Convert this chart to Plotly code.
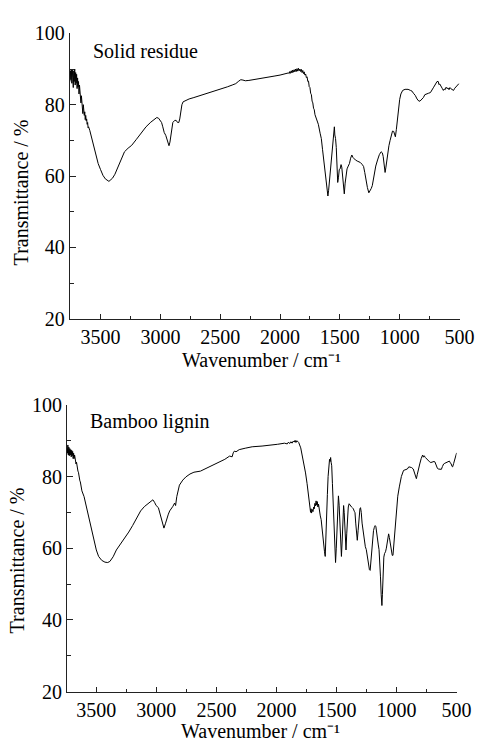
import plotly.graph_objects as go

# ---------------- Data: Solid residue (top) ----------------
wn_solid = [3756, 3752, 3748, 3744, 3740, 3736, 3732, 3728, 3724, 3720, 3716, 3712, 3708, 3704, 3700,
            3696, 3692, 3688, 3684, 3680, 3676, 3672, 3668, 3664, 3660, 3656, 3652, 3648, 3644, 3640,
            3636, 3632, 3628, 3624, 3620, 3616, 3612, 3608, 3604, 3600,
            3590, 3580, 3570, 3560, 3550, 3540, 3520, 3500, 3480, 3460, 3440, 3430, 3420, 3400, 3380,
            3360, 3340, 3320, 3300, 3270, 3240, 3200, 3160, 3120, 3080, 3050, 3030, 3015, 3000, 2990,
            2980, 2968, 2955, 2945, 2935, 2928, 2920, 2912, 2905, 2896, 2880, 2868, 2856, 2846, 2838,
            2830, 2820, 2810, 2790, 2760, 2720, 2690, 2640, 2585, 2530, 2480, 2440, 2400, 2370, 2345,
            2328, 2310, 2290, 2260, 2200, 2150, 2100, 2050, 2000, 1960, 1930,
            1924, 1918, 1912, 1906, 1900, 1894, 1888, 1882, 1876, 1870, 1864, 1858, 1852, 1846, 1840,
            1834, 1828, 1822, 1816, 1810, 1804, 1798, 1792, 1786, 1780, 1774, 1768, 1762, 1756, 1750,
            1744, 1738, 1732, 1726, 1720, 1714, 1708, 1700, 1690, 1680, 1665, 1655, 1645, 1635, 1625,
            1615, 1605, 1600, 1594, 1585, 1578, 1570, 1560, 1552, 1546, 1542, 1536, 1530, 1524, 1518,
            1512, 1505, 1498, 1490, 1484, 1476, 1468, 1463, 1456, 1448, 1440, 1430, 1420, 1410, 1400,
            1390, 1380, 1370, 1355, 1340, 1329, 1315, 1302, 1292, 1283, 1270, 1258, 1248, 1238, 1229,
            1215, 1200, 1185, 1170, 1155, 1145, 1138, 1130, 1122, 1115, 1106, 1100, 1090, 1080, 1070,
            1060, 1050, 1043, 1036, 1028, 1019, 1010, 1000, 990, 975, 955, 930, 910, 897, 885,
            870, 855, 840, 830, 815, 802, 790, 775, 760, 743, 730, 716, 700, 688, 678,
            672, 665, 655, 645, 635, 628, 620, 612, 604, 596, 588, 580, 573, 565, 558,
            550, 540, 530, 520, 510, 505]
t_solid = [86.5, 89.5, 87.0, 90.0, 86.0, 89.8, 87.5, 84.8, 89.5, 86.5, 90.0, 85.5, 89.0, 86.0, 88.5,
           84.5, 87.5, 85.0, 86.5, 83.0, 85.5, 82.5, 84.0, 80.5, 82.5, 79.5, 81.0, 77.5, 80.0, 78.5,
           77.0, 78.0, 75.8, 77.0, 75.5, 76.0, 74.5, 75.0, 73.5, 73.8,
           72.8, 71.5, 70.2, 68.5, 67.3, 66.0, 63.5, 61.8, 60.2, 59.2, 58.6, 58.5, 58.8, 59.4, 60.5,
           62.0, 63.8, 65.5, 66.8, 67.8, 68.6, 70.3, 72.2, 73.8, 75.1, 76.0, 76.4, 76.2, 75.6, 75.0,
           73.8, 72.2, 71.4, 70.5, 69.0, 68.5, 69.5, 71.2, 73.0, 75.0, 75.6, 75.6, 75.0, 75.0, 76.0,
           78.0, 80.0, 80.8, 81.2, 81.6, 82.0, 82.3, 82.9, 83.5, 84.0, 84.6, 85.0, 85.5, 85.9, 86.6,
           87.0, 86.9, 86.7, 86.8, 87.2, 87.5, 87.8, 88.0, 88.3, 88.6, 88.9,
           88.7, 89.3, 88.8, 89.5, 88.9, 89.7, 89.1, 89.8, 89.2, 90.0, 89.3, 90.1, 89.4, 90.2, 89.5,
           90.0, 89.3, 89.9, 89.0, 89.6, 88.7, 89.2, 88.3, 88.6, 87.6, 87.8, 86.5, 86.6, 85.0, 84.8,
           83.2, 82.8, 81.0, 80.5, 79.0, 78.6, 77.2, 76.3, 75.5, 74.5, 72.0, 70.5, 67.5, 64.5, 61.0,
           58.0, 55.0, 54.4, 56.0, 59.5, 62.0, 66.0, 69.0, 71.0, 73.8, 71.5, 70.5, 68.0, 63.0, 58.2,
           59.5, 61.8, 62.0, 63.2, 62.5, 59.0, 56.0, 55.0, 58.0, 61.0, 62.0, 62.8, 63.5, 65.0, 65.9,
           65.2, 64.8, 64.5, 64.2, 64.0, 63.8, 63.3, 62.7, 61.0, 59.1, 56.8, 55.3, 55.8, 56.5, 57.3,
           60.0, 62.8, 64.5, 66.0, 66.8, 66.5, 65.5, 63.0, 61.0, 62.5, 65.0, 66.3, 68.5, 70.0, 71.2,
           72.6, 72.5, 71.8, 71.0, 73.0, 76.3, 79.0, 81.5, 83.0, 84.0, 84.3, 84.3, 84.0, 83.8, 83.2,
           82.6, 81.6, 81.0, 81.0, 81.5, 82.0, 82.8, 83.1, 83.2, 83.4, 84.0, 84.9, 85.8, 86.5, 86.5,
           85.6, 85.8, 85.0, 84.6, 84.0, 84.4, 84.2, 84.9, 84.5, 84.7, 84.2, 84.8, 84.5, 84.3, 84.0,
           84.0, 84.6, 85.0, 85.2, 85.6, 85.9]

# ---------------- Data: Bamboo lignin (bottom) ----------------
wn_lignin = [3745, 3741, 3737, 3733, 3729, 3725, 3721, 3717, 3713, 3709, 3705, 3701, 3697, 3693, 3689,
             3685, 3681, 3677, 3673, 3669, 3665, 3661, 3657, 3653, 3649, 3645, 3641, 3637, 3633, 3629,
             3625, 3620, 3602, 3582, 3562, 3541, 3521, 3500, 3481, 3455, 3428, 3405, 3387, 3360, 3333,
             3300, 3266, 3230, 3198, 3165, 3131, 3100, 3064, 3045, 3029, 3015, 3002, 2983, 2964, 2950,
             2937, 2925, 2915, 2900, 2889, 2875, 2862, 2848, 2840, 2830, 2808, 2780, 2754, 2720, 2687,
             2633, 2566, 2485, 2430, 2390, 2369, 2360, 2350, 2337, 2310, 2260, 2202, 2120, 2041, 1990,
             1933, 1910, 1900, 1890, 1880, 1870, 1860, 1852, 1845, 1838, 1830, 1825, 1815, 1798, 1785,
             1772, 1758, 1745, 1730, 1722, 1716, 1712, 1708, 1702, 1696, 1690, 1685, 1680, 1675, 1670,
             1665, 1660, 1655, 1650, 1645, 1640, 1635, 1628, 1620, 1610, 1600, 1594, 1588, 1582, 1576,
             1570, 1564, 1558, 1553, 1549, 1545, 1540, 1534, 1528, 1522, 1515, 1508, 1502, 1496, 1490,
             1484, 1478, 1472, 1465, 1459, 1453, 1447, 1441, 1436, 1430, 1425, 1421, 1415, 1408, 1402,
             1395, 1385, 1375, 1368, 1360, 1352, 1346, 1340, 1334, 1327, 1320, 1312, 1305, 1300, 1294,
             1287, 1279, 1272, 1266, 1260, 1252, 1245, 1235, 1226, 1220, 1214, 1205, 1198, 1192, 1185,
             1178, 1172, 1166, 1160, 1152, 1146, 1140, 1134, 1128, 1122, 1118, 1112, 1106, 1100, 1092,
             1085, 1078, 1070, 1066, 1060, 1052, 1044, 1036, 1030, 1024, 1016, 1008, 1000, 990, 977,
             960, 942, 925, 910, 898, 888, 875, 861, 850, 842, 835, 828, 818, 807, 795,
             783, 776, 770, 760, 750, 740, 734, 725, 715, 705, 696, 688, 681, 675, 668,
             660, 654, 645, 636, 627, 618, 608, 598, 587, 578, 570, 560, 552, 545, 538,
             533, 525, 515, 507, 500]
t_lignin = [88.0, 86.5, 88.8, 86.0, 88.2, 85.8, 87.8, 86.0, 87.5, 85.5, 87.3, 85.8, 87.0, 85.0, 86.5,
            85.0, 86.0, 84.5, 85.0, 83.5, 84.0, 82.5, 82.8, 81.5, 81.2, 80.0, 80.0, 78.8, 78.5, 77.6,
            77.0, 76.0, 74.4, 71.3, 68.1, 64.9, 61.8, 59.5, 57.7, 56.6, 56.1, 56.0, 56.3, 57.6, 59.5,
            61.0, 62.7, 64.5, 66.3, 68.4, 70.4, 71.6, 72.6, 73.2, 73.5, 72.8, 71.9, 71.3, 69.0, 67.3,
            65.6, 66.8, 68.1, 69.5, 70.4, 71.0, 71.7, 72.6, 71.9, 74.4, 77.6, 79.0, 79.9, 80.7, 81.2,
            81.5, 82.6, 83.9, 84.8, 85.7, 85.5, 86.6, 87.1, 86.9, 87.5, 87.9, 88.3, 88.5, 88.7, 89.0,
            89.3, 89.1, 89.6, 89.2, 89.7, 89.3, 89.9, 89.6, 90.1, 89.5, 90.0, 89.8, 89.5, 88.0, 86.0,
            83.5, 81.0, 78.0, 74.5, 71.5, 70.0, 71.0, 69.8, 70.8, 70.2, 71.5, 71.0, 72.5, 71.8, 73.2,
            72.0, 73.0, 71.5, 72.3, 70.5, 70.8, 69.0, 68.0, 65.0, 62.0, 59.0, 57.7, 62.0, 68.0, 75.0,
            80.0, 84.0, 84.8, 84.2, 85.3, 84.0, 83.0, 78.0, 72.0, 66.0, 60.0, 56.0, 60.0, 66.0, 71.0,
            74.6, 72.0, 66.0, 60.0, 57.7, 62.0, 68.0, 71.9, 70.0, 64.0, 61.0, 59.5, 64.0, 69.0, 71.5,
            72.4, 71.8, 71.5, 71.3, 71.0, 70.3, 69.9, 67.0, 64.0, 62.2, 65.0, 69.0, 71.0, 71.3, 70.0,
            67.0, 64.9, 63.0, 62.8, 60.4, 59.6, 58.0, 55.5, 54.0, 53.8, 56.0, 61.0, 64.0, 64.9, 65.8,
            66.3, 66.0, 64.0, 62.0, 60.9, 59.6, 57.0, 52.0, 47.0, 44.0, 47.0, 53.0, 57.5, 58.5, 59.0,
            60.0, 62.0, 63.5, 64.0, 63.0, 61.0, 59.5, 58.0, 58.0, 60.5, 65.0, 68.5, 71.0, 74.5, 77.1,
            80.0, 81.7, 82.0, 82.1, 82.7, 82.7, 82.5, 82.1, 81.0, 80.0, 79.4, 80.5, 82.5, 83.5, 85.0,
            86.0, 85.4, 85.8, 85.3, 84.9, 84.6, 84.5, 84.1, 83.9, 84.0, 84.2, 84.2, 84.1, 83.5, 82.8,
            82.3, 82.1, 82.0, 82.0, 82.0, 82.8, 83.5, 83.7, 83.9, 84.0, 84.3, 84.3, 83.8, 83.5, 82.8,
            82.7, 83.6, 84.8, 85.8, 86.6]

x_ticks = [3500, 3000, 2500, 2000, 1500, 1000, 500]
y_ticks = [20, 40, 60, 80, 100]
panel_labels = ["Solid residue", "Bamboo lignin"]
x_title = "Wavenumber / cm⁻¹"
y_title = "Transmittance / %"

W, H = 491, 753
FONT = "Liberation Serif, Times New Roman, serif"
FS = 20
AX = "#222222"

fig = go.Figure()
fig.add_trace(go.Scatter(x=wn_solid, y=t_solid, mode="lines",
                         line=dict(color="black", width=1), xaxis="x", yaxis="y",
                         showlegend=False, hoverinfo="skip"))
fig.add_trace(go.Scatter(x=wn_lignin, y=t_lignin, mode="lines",
                         line=dict(color="black", width=1), xaxis="x2", yaxis="y2",
                         showlegend=False, hoverinfo="skip"))


def xa(domain, rng, anchor):
    return dict(domain=domain, range=rng, anchor=anchor, showgrid=False, zeroline=False,
                showline=True, linecolor=AX, linewidth=1, mirror=False,
                ticks="inside", ticklen=5, tickwidth=1, tickcolor=AX,
                tickvals=x_ticks, ticktext=[str(v) for v in x_ticks],
                minor=dict(ticks="inside", ticklen=3, tickwidth=1, tickcolor=AX,
                           dtick=250, tick0=0, showgrid=False),
                tickfont=dict(family=FONT, size=FS, color="black"))


def ya(domain, anchor):
    return dict(domain=domain, range=[20, 100], anchor=anchor, showgrid=False, zeroline=False,
                showline=True, linecolor=AX, linewidth=1, mirror=False,
                ticks="inside", ticklen=6, tickwidth=1, tickcolor=AX,
                tickvals=y_ticks, ticktext=[str(v) for v in y_ticks],
                minor=dict(ticks="inside", ticklen=4, tickwidth=1, tickcolor=AX,
                           dtick=10, tick0=0, showgrid=False),
                tickfont=dict(family=FONT, size=FS, color="black"))


def py(p):  # pixel y -> paper
    return 1 - p / H


def px(p):  # pixel x -> paper
    return p / W


fig.update_layout(
    width=W, height=H, margin=dict(l=0, r=0, t=0, b=0),
    paper_bgcolor="white", plot_bgcolor="white",
    xaxis=xa([px(72), px(474)], [3757, 500], "y"),
    yaxis=ya([py(317), py(23)], "x"),
    xaxis2=xa([px(69), px(471)], [3745, 500], "y2"),
    yaxis2=ya([py(701), py(405.7)], "x2"),
)

annots = [
    dict(text=panel_labels[0], x=px(94), y=py(41), xanchor="left", yanchor="middle"),
    dict(text=panel_labels[1], x=px(91), y=py(423), xanchor="left", yanchor="middle"),
    dict(text=x_title, x=px(270), y=py(360), xanchor="center", yanchor="middle"),
    dict(text=x_title, x=px(269), y=py(741.5), xanchor="center", yanchor="middle"),
    dict(text=y_title, x=px(21.5), y=py(187), xanchor="center", yanchor="middle", textangle=-90),
    dict(text=y_title, x=px(18.5), y=py(566), xanchor="center", yanchor="middle", textangle=-90),
]
for a in annots:
    fig.add_annotation(xref="paper", yref="paper", showarrow=False,
                       font=dict(family=FONT, size=FS, color="black"), **a)

fig.write_html("out.html")
